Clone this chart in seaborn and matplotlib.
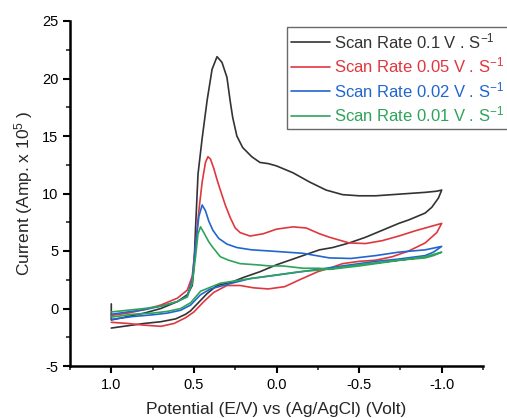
import pandas as pd
import numpy as np
import seaborn as sns
import matplotlib.pyplot as plt
from matplotlib.ticker import MultipleLocator

# scan rates and legend labels
rates = ["0.1", "0.05", "0.02", "0.01"]
labels = ["Scan Rate 0.1 V . S$^{-1}$", "Scan Rate 0.05 V . S$^{-1}$",
          "Scan Rate 0.02 V . S$^{-1}$", "Scan Rate 0.01 V . S$^{-1}$"]
colors = ["#333333", "#e0373f", "#2166d0", "#2fa35c"]

# 0.1 V/s  (potential, current x 10^5), loop order
v_01 = [1.0, 1.0, 0.9, 0.8, 0.7, 0.6, 0.54, 0.51, 0.50, 0.49, 0.475, 0.45, 0.42, 0.39, 0.36, 0.33,
        0.30, 0.28, 0.265, 0.24, 0.205, 0.15, 0.10, 0.05, 0.0, -0.1, -0.2, -0.3, -0.4, -0.5, -0.6,
        -0.7, -0.8, -0.9, -0.97, -1.0,
        -0.98, -0.94, -0.9, -0.8, -0.74, -0.64, -0.54, -0.44, -0.34, -0.26, -0.14, 0.0, 0.1, 0.2,
        0.27, 0.36, 0.42, 0.48, 0.52, 0.55, 0.61, 0.7, 0.8, 0.9, 1.0]
i_01 = [0.4, -1.0, -0.7, -0.4, 0.0, 0.6, 1.2, 2.0, 3.5, 7.0, 11.7, 14.8, 18.1, 20.8, 21.9, 21.4,
        20.1, 18.0, 16.6, 15.0, 14.0, 13.2, 12.7, 12.6, 12.4, 11.8, 11.0, 10.3, 9.9, 9.8, 9.8,
        9.9, 10.0, 10.1, 10.2, 10.3,
        9.6, 8.8, 8.3, 7.7, 7.4, 6.8, 6.2, 5.7, 5.3, 5.1, 4.5, 3.8, 3.2, 2.7,
        2.3, 2.0, 1.3, 0.4, -0.2, -0.5, -0.9, -1.15, -1.3, -1.5, -1.7]

# 0.05 V/s
v_005 = [1.0, 0.9, 0.8, 0.7, 0.6, 0.54, 0.51, 0.49, 0.47, 0.45, 0.43, 0.415, 0.40, 0.38, 0.36,
         0.34, 0.31, 0.28, 0.25, 0.22, 0.16, 0.08, 0.0, -0.1, -0.18, -0.26, -0.32, -0.44, -0.54,
         -0.64, -0.74, -0.85, -0.95, -1.0,
         -0.97, -0.9, -0.8, -0.7, -0.6, -0.5, -0.4, -0.34, -0.25, -0.14, -0.05, 0.05, 0.14, 0.22,
         0.3, 0.38, 0.44, 0.5, 0.55, 0.62, 0.7, 0.8, 0.9, 1.0]
i_005 = [-0.6, -0.4, -0.1, 0.3, 0.9, 1.6, 2.8, 5.5, 8.5, 11.0, 12.7, 13.2, 13.0, 12.2, 11.2,
         10.3, 9.0, 7.9, 7.0, 6.6, 6.3, 6.5, 6.9, 7.1, 7.0, 6.5, 6.2, 5.7, 5.65,
         5.9, 6.3, 6.8, 7.2, 7.4,
         6.6, 5.7, 5.0, 4.5, 4.2, 4.1, 3.9, 3.6, 3.2, 2.5, 1.9, 1.7, 1.8, 2.0,
         2.0, 1.4, 0.6, -0.3, -0.8, -1.3, -1.55, -1.45, -1.3, -1.2]

# 0.02 V/s
v_002 = [1.0, 0.9, 0.8, 0.7, 0.6, 0.54, 0.51, 0.49, 0.47, 0.45, 0.43, 0.41, 0.385, 0.35, 0.3,
         0.24, 0.15, 0.04, -0.16, -0.32, -0.45, -0.6, -0.74, -0.9, -1.0,
         -0.95, -0.9, -0.74, -0.6, -0.5, -0.4, -0.3, -0.2, -0.1, 0.0, 0.16, 0.27, 0.4, 0.46,
         0.52, 0.58, 0.66, 0.75, 0.87, 1.0]
i_002 = [-0.5, -0.3, -0.1, 0.2, 0.6, 1.1, 2.5, 5.5, 8.0, 9.0, 8.5, 7.6, 6.8, 6.1, 5.6,
         5.3, 5.1, 5.0, 4.8, 4.4, 4.35, 4.6, 4.9, 5.1, 5.4,
         4.9, 4.6, 4.3, 4.1, 3.9, 3.7, 3.5, 3.3, 3.1, 2.9, 2.6, 2.2, 1.7, 1.2,
         0.3, -0.15, -0.4, -0.55, -0.7, -0.95]

# 0.01 V/s
v_001 = [1.0, 0.9, 0.8, 0.7, 0.6, 0.54, 0.51, 0.49, 0.475, 0.46, 0.44, 0.41, 0.385, 0.34, 0.29,
         0.22, 0.12, 0.04, -0.04, -0.16, -0.26, -0.32, -0.5, -0.7, -0.9, -1.0,
         -0.95, -0.9, -0.74, -0.5, -0.3, -0.14, -0.04, 0.16, 0.34, 0.46, 0.52, 0.58, 0.66,
         0.75, 0.87, 1.0]
i_001 = [-0.3, -0.15, 0.0, 0.2, 0.6, 1.0, 2.2, 4.5, 6.5, 7.1, 6.6, 5.8, 5.3, 4.5, 4.2,
         3.9, 3.8, 3.7, 3.7, 3.5, 3.5, 3.4, 3.7, 4.1, 4.5, 4.9,
         4.6, 4.4, 4.2, 3.8, 3.4, 3.2, 3.0, 2.6, 2.2, 1.5, 0.5, 0.0, -0.25,
         -0.4, -0.5, -0.75]

frames = []
for lab, v, i in zip(labels, [v_01, v_005, v_002, v_001], [i_01, i_005, i_002, i_001]):
    d = pd.DataFrame({"V": v, "I": i})
    d["rate"] = lab
    frames.append(d)
df = pd.concat(frames, ignore_index=True)

sns.set_style("ticks")
plt.rcParams["font.family"] = ["Liberation Sans", "DejaVu Sans"]
plt.rcParams["axes.unicode_minus"] = False
plt.rcParams["mathtext.fontset"] = "custom"
plt.rcParams["mathtext.rm"] = "Liberation Sans"
plt.rcParams["mathtext.it"] = "Liberation Sans"

fig = plt.figure(figsize=(5.07, 4.18), dpi=100)
ax = fig.add_axes([70 / 507, 1 - 366 / 418, 413 / 507, 345 / 418])

sns.lineplot(data=df, x="V", y="I", hue="rate", palette=colors, sort=False,
             estimator=None, linewidth=1.2, ax=ax, legend=True)

ax.set_xlim(1.25, -1.25)
ax.set_ylim(-5, 25)
ax.set_xticks([1.0, 0.5, 0.0, -0.5, -1.0])
ax.set_xticklabels(["1.0", "0.5", "0.0", "-0.5", "-1.0"])
ax.set_yticks([-5, 0, 5, 10, 15, 20, 25])
ax.set_yticklabels(["-5", "0", "5", "10", "15", "20", "25"])
ax.xaxis.set_minor_locator(MultipleLocator(0.25))
ax.yaxis.set_minor_locator(MultipleLocator(2.5))
ax.tick_params(which="major", direction="out", length=5, width=1.5, labelsize=10.5, colors="black")
ax.tick_params(which="minor", direction="out", length=3, width=1.2)
sns.despine(ax=ax)
for s in ["left", "bottom"]:
    ax.spines[s].set_linewidth(1.8)
    ax.spines[s].set_color("black")

ax.set_xlabel("Potential (E/V) vs (Ag/AgCl) (Volt)", fontsize=12.5, labelpad=7)
ax.set_ylabel("Current (Amp. x 10$^5$ )", fontsize=12.5, labelpad=5)

leg = ax.legend(loc="upper left", bbox_to_anchor=(287 / 507, 1 - 27 / 418),
                bbox_transform=fig.transFigure, fontsize=12, frameon=True,
                fancybox=False, borderaxespad=0, borderpad=0.25, handlelength=2.3,
                handletextpad=0.3, labelspacing=0.28)
leg.get_frame().set_edgecolor("#444444")
leg.get_frame().set_linewidth(1.0)
for t, c in zip(leg.get_texts(), colors):
    t.set_color(c)

fig.savefig("out.png", dpi=100)
